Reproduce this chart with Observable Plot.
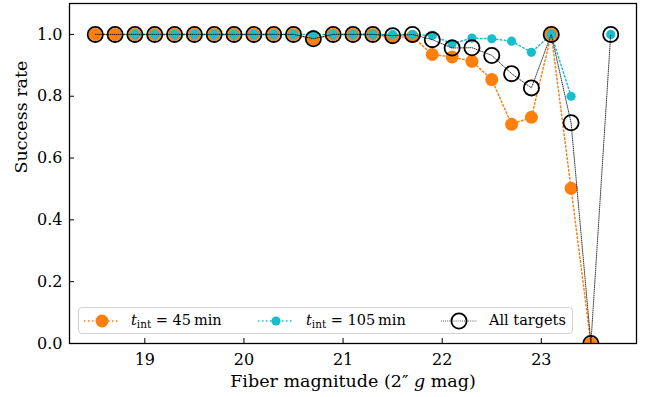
<!DOCTYPE html>
<html>
<head>
<meta charset="utf-8">
<script src="https://cdn.jsdelivr.net/npm/d3@7"></script>
<script src="https://cdn.jsdelivr.net/npm/@observablehq/plot@0.6"></script>
<style>
  html, body { margin: 0; padding: 0; background: #fff; }
  #wrap { position: relative; width: 660px; height: 397px; font-family: "DejaVu Serif", serif; }
  #legend { position: absolute; left: 78px; top: 307px; width: 495px; height: 27px; box-sizing: border-box;
    border: 1px solid #d2d2d2; border-radius: 4px; background: rgba(255,255,255,0.8); font-size: 14.5px; }
  .item { position: absolute; top: 0; height: 25px; display: flex; align-items: center; white-space: nowrap; }
  .item svg { display: block; }
  .lab { position: absolute; top: 1px; line-height: 22px; white-space: nowrap; }
  sub { font-size: 10.5px; vertical-align: -3px; line-height: 0; }
</style>
</head>
<body>
<div id="wrap"><div id="legend"></div></div>
<script>
const mags = [18.5, 18.7, 18.9, 19.1, 19.3, 19.5, 19.7, 19.9, 20.1, 20.3, 20.5, 20.7, 20.9, 21.1,
  21.3, 21.5, 21.7, 21.9, 22.1, 22.3, 22.5, 22.7, 22.9, 23.1, 23.3, 23.5, 23.7];
const rate45 = [1, 1, 1, 1, 1, 1, 1, 1, 1, 1, 1, 0.985, 1, 1,
  1, 0.99, 0.993, 0.935, 0.927, 0.913, 0.854, 0.709, 0.732, 1, 0.502, 0, NaN];
const rate105 = [NaN, NaN, 1, 1, 1, 1, 1, 1, 1, 1, 1, 1, 1, 1,
  1, 1, 1, 0.997, 0.97, 0.988, 0.986, 0.978, 0.942, 1, 0.80, NaN, 1];
const rateAll = [1, 1, 1, 1, 1, 1, 1, 1, 1, 1, 1, 0.986, 1, 1,
  1, 0.996, 1, 0.983, 0.956, 0.957, 0.932, 0.873, 0.827, 1, 0.714, 0, 1];
const xTicks = [19, 20, 21, 22, 23];
const yTicks = [0, 0.2, 0.4, 0.6, 0.8, 1.0];
const xLabel = "Fiber magnitude (2″ g mag)";
const yLabel = "Success rate";
const legendLabels = ["45", "105", "All targets"];

const data = mags.map((m, i) => ({mag: m, r45: rate45[i], r105: rate105[i], rall: rateAll[i]}));

const C45 = "#ff7f0e", C105 = "#17becf";
const W = 660, H = 397, mL = 69, mR = 24, mT = 3, mB = 54;
const pw = W - mL - mR, ph = H - mT - mB;
const FONT = "DejaVu Serif, serif";

const chart = Plot.plot({
  width: W, height: H,
  marginLeft: mL, marginRight: mR, marginTop: mT, marginBottom: mB,
  style: {fontFamily: FONT, fontSize: "16px", color: "#000", background: "#fff", overflow: "visible"},
  x: {domain: [18.24, 23.96]},
  y: {domain: [0, 1.1]},
  marks: [
    Plot.line(data, {x: "mag", y: "r45", stroke: C45, strokeWidth: 1.5, strokeDasharray: "1.5,2.5", clip: true}),
    Plot.dot(data, {x: "mag", y: "r45", r: 6.5, fill: C45, stroke: "none", clip: true}),
    Plot.line(data, {x: "mag", y: "r105", stroke: C105, strokeWidth: 1.5, strokeDasharray: "1.5,2.5", clip: true}),
    Plot.dot(data, {x: "mag", y: "r105", r: 4.6, fill: C105, stroke: "none", clip: true}),
    Plot.line(data, {x: "mag", y: "rall", stroke: "#000", strokeWidth: 0.8, strokeDasharray: "0.8,1.3", clip: true}),
    Plot.dot(data, {x: "mag", y: "rall", r: 7.6, fill: "none", stroke: "#000", strokeWidth: 1.8, clip: true}),
    Plot.ruleX(xTicks, {x: d => d, insetTop: ph - 5, stroke: "#000", strokeWidth: 1}),
    Plot.ruleY(yTicks, {y: d => d, insetRight: pw - 5, stroke: "#000", strokeWidth: 1}),
    Plot.axisX(xTicks, {tickSize: 0, tickPadding: 10, label: null}),
    Plot.axisY(yTicks, {tickSize: 0, tickPadding: 7, tickFormat: d3.format(".1f"), label: null}),
    Plot.text([xLabel], {text: d => d, frameAnchor: "bottom", dy: 38, lineAnchor: "middle", fontSize: 17.5}),
    Plot.text([yLabel], {text: d => d, frameAnchor: "left", dx: -48, rotate: -90, lineAnchor: "middle", fontSize: 17.5}),
    Plot.frame({stroke: "#000", strokeWidth: 1.3})
  ]
});
document.getElementById("wrap").prepend(chart);

// italic g in x label
d3.select(chart).selectAll("text").each(function() {
  const t = this.textContent;
  if (t === xLabel) {
    const el = d3.select(this);
    el.text(null);
    el.append("tspan").text("Fiber magnitude (2″ ");
    el.append("tspan").attr("font-style", "italic").text("g");
    el.append("tspan").text(" mag)");
  }
});

// legend
const leg = document.getElementById("legend");
function handle(kind) {
  const ns = "http://www.w3.org/2000/svg";
  const s = document.createElementNS(ns, "svg");
  s.setAttribute("width", 36); s.setAttribute("height", 20);
  const ln = document.createElementNS(ns, "line");
  ln.setAttribute("x1", 0); ln.setAttribute("x2", 36); ln.setAttribute("y1", 10); ln.setAttribute("y2", 10);
  if (kind === "all") {
    ln.setAttribute("stroke", "#000"); ln.setAttribute("stroke-width", 0.8); ln.setAttribute("stroke-dasharray", "0.8,1.3");
  } else {
    ln.setAttribute("stroke", kind === "45" ? C45 : C105); ln.setAttribute("stroke-width", 1.5); ln.setAttribute("stroke-dasharray", "1.5,2.5");
  }
  s.appendChild(ln);
  const c = document.createElementNS(ns, "circle");
  c.setAttribute("cx", 18); c.setAttribute("cy", 10);
  if (kind === "all") { c.setAttribute("r", 7.6); c.setAttribute("fill", "none"); c.setAttribute("stroke", "#000"); c.setAttribute("stroke-width", 1.8); }
  else { c.setAttribute("r", kind === "45" ? 6.5 : 4.6); c.setAttribute("fill", kind === "45" ? C45 : C105); }
  s.appendChild(c);
  return s;
}
const items = [
  {kind: "45", hx: 5, tx: 52, html: `<i>t</i><sub>int</sub> = ${legendLabels[0]}&#8201;min`},
  {kind: "105", hx: 179, tx: 227, html: `<i>t</i><sub>int</sub> = ${legendLabels[1]}&#8201;min`},
  {kind: "all", hx: 362, tx: 410, html: legendLabels[2]}
];
items.forEach(it => {
  const h = document.createElement("div");
  h.className = "item"; h.style.left = it.hx + "px";
  h.appendChild(handle(it.kind));
  leg.appendChild(h);
  const t = document.createElement("div");
  t.className = "lab"; t.style.left = it.tx + "px";
  t.innerHTML = it.html;
  leg.appendChild(t);
});
</script>
</body>
</html>
